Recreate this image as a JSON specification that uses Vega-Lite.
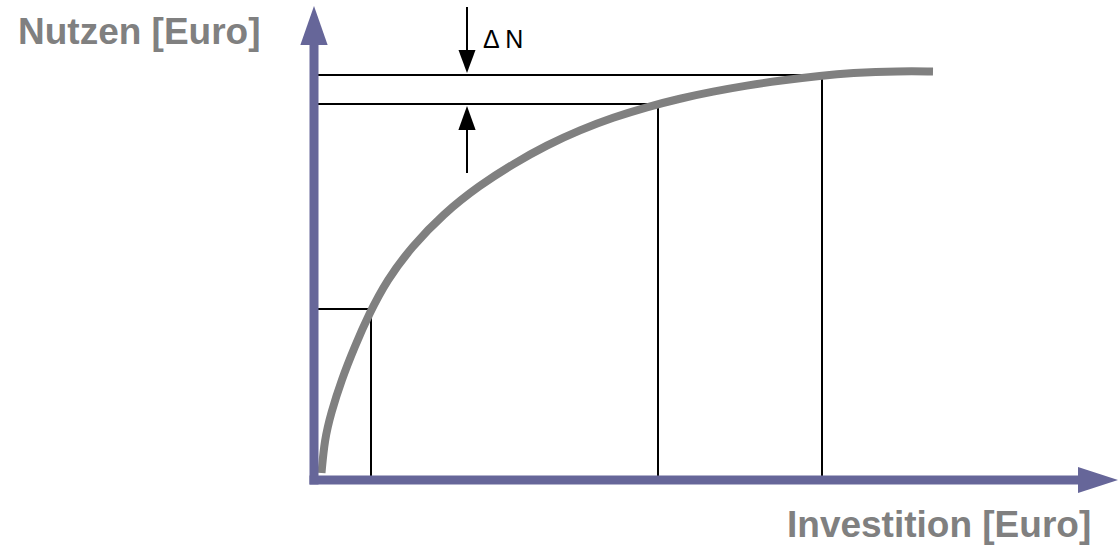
{
  "$schema": "https://vega.github.io/schema/vega-lite/v6.json",
  "width": 1119,
  "height": 547,
  "padding": 0,
  "autosize": {"type": "fit", "contains": "padding"},
  "background": "white",
  "config": {"view": {"stroke": null}},
  "datasets": {
    "curve": [
      {"inv": 7.5, "nutzen": 7},
      {"inv": 10.5, "nutzen": 40},
      {"inv": 17, "nutzen": 67},
      {"inv": 27.5, "nutzen": 100},
      {"inv": 40.5, "nutzen": 133},
      {"inv": 55, "nutzen": 166},
      {"inv": 73, "nutzen": 200},
      {"inv": 97.5, "nutzen": 233},
      {"inv": 129, "nutzen": 266},
      {"inv": 166, "nutzen": 295},
      {"inv": 199, "nutzen": 316},
      {"inv": 233, "nutzen": 335},
      {"inv": 266, "nutzen": 350},
      {"inv": 299, "nutzen": 362.5},
      {"inv": 333, "nutzen": 373},
      {"inv": 366, "nutzen": 381.5},
      {"inv": 399, "nutzen": 388.5},
      {"inv": 433, "nutzen": 394.5},
      {"inv": 466, "nutzen": 399.5},
      {"inv": 508, "nutzen": 404.5},
      {"inv": 536, "nutzen": 407},
      {"inv": 586, "nutzen": 409},
      {"inv": 619, "nutzen": 408.5}
    ],
    "axes": [
      {"x": -4.5, "y": 0, "x2": 772, "y2": 0},
      {"x": 0, "y": -4.5, "x2": 0, "y2": 440}
    ],
    "guides": [
      {"x": 4, "y": 405, "x2": 508, "y2": 405},
      {"x": 508, "y": 405, "x2": 508, "y2": 0},
      {"x": 4, "y": 376, "x2": 344, "y2": 376},
      {"x": 344, "y": 376, "x2": 344, "y2": 0},
      {"x": 4, "y": 171, "x2": 57, "y2": 171},
      {"x": 57, "y": 171, "x2": 57, "y2": -2},
      {"x": 153, "y": 473, "x2": 153, "y2": 428},
      {"x": 153, "y": 307, "x2": 153, "y2": 352}
    ],
    "headUpAxis": [{"x": 0, "y": 454.5}],
    "headRightAxis": [{"x": 784, "y": 0}],
    "headDown": [{"x": 153, "y": 418.5}],
    "headUp": [{"x": 153, "y": 362}],
    "delta": [{"x": 169, "y": 432, "label": "Δ N"}],
    "titles": [
      {"x": -296, "y": 436.5, "label": "Nutzen [Euro]"},
      {"x": 473, "y": -57, "label": "Investition [Euro]"}
    ]
  },
  "encoding": {
    "x": {"field": "x", "type": "quantitative", "axis": null, "scale": {"domain": [-314, 805], "nice": false, "zero": false}},
    "y": {"field": "y", "type": "quantitative", "axis": null, "scale": {"domain": [-67, 480], "nice": false, "zero": false}}
  },
  "layer": [
    {
      "data": {"name": "guides"},
      "mark": {"type": "rule", "color": "black", "strokeWidth": 2},
      "encoding": {"x2": {"field": "x2"}, "y2": {"field": "y2"}}
    },
    {
      "data": {"name": "curve"},
      "mark": {"type": "line", "color": "#808080", "strokeWidth": 8, "interpolate": "basis", "strokeCap": "butt"},
      "encoding": {
        "x": {"field": "inv", "type": "quantitative"},
        "y": {"field": "nutzen", "type": "quantitative"}
      }
    },
    {
      "data": {"name": "axes"},
      "mark": {"type": "rule", "color": "#666699", "strokeWidth": 9},
      "encoding": {"x2": {"field": "x2"}, "y2": {"field": "y2"}}
    },
    {
      "data": {"name": "headUpAxis"},
      "mark": {"type": "point", "filled": true, "opacity": 1, "color": "#666699", "strokeWidth": 0, "size": 1521, "shape": "M0,-1L0.7,1L-0.7,1Z"},
      "encoding": {}
    },
    {
      "data": {"name": "headRightAxis"},
      "mark": {"type": "point", "filled": true, "opacity": 1, "color": "#666699", "strokeWidth": 0, "size": 1600, "shape": "M1,0L-1,0.65L-1,-0.65Z"},
      "encoding": {}
    },
    {
      "data": {"name": "headDown"},
      "mark": {"type": "point", "filled": true, "opacity": 1, "color": "black", "strokeWidth": 0, "size": 529, "shape": "M0,1L0.74,-1L-0.74,-1Z"},
      "encoding": {}
    },
    {
      "data": {"name": "headUp"},
      "mark": {"type": "point", "filled": true, "opacity": 1, "color": "black", "strokeWidth": 0, "size": 576, "shape": "M0,-1L0.72,1L-0.72,1Z"},
      "encoding": {}
    },
    {
      "data": {"name": "delta"},
      "mark": {"type": "text", "align": "left", "baseline": "alphabetic", "font": "Liberation Sans", "fontSize": 25, "color": "black"},
      "encoding": {"text": {"field": "label"}}
    },
    {
      "data": {"name": "titles"},
      "mark": {"type": "text", "align": "left", "baseline": "alphabetic", "font": "Liberation Sans", "fontSize": 37, "fontWeight": "bold", "color": "#808080"},
      "encoding": {"text": {"field": "label"}}
    }
  ]
}
